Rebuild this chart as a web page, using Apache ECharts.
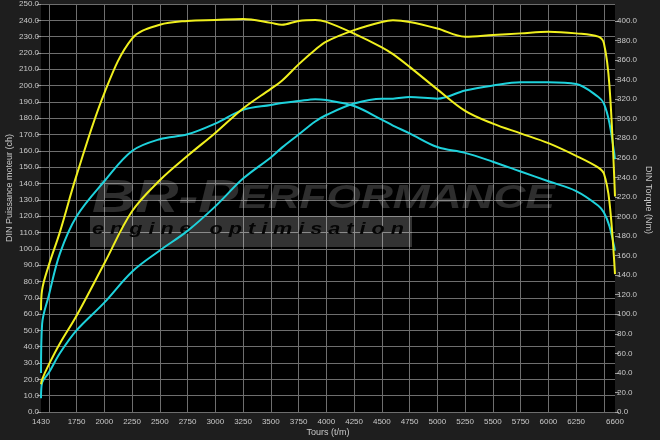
<!DOCTYPE html>
<html><head><meta charset="utf-8">
<script src="https://cdn.jsdelivr.net/npm/echarts@6/dist/echarts.min.js"></script>
<style>html,body{margin:0;padding:0;background:#1e1e1e;}#c{width:660px;height:440px;}</style>
</head><body><div id="c"></div>
<script>
const rpm = [1430,1440,1500,1600,1750,2000,2250,2500,2750,3000,3250,3500,3600,3750,3900,4000,4250,4500,4600,4750,5000,5250,5500,5750,6000,6250,6450,6500,6550,6600];
const torqueTuned = [104,125,150,184,242,326,382,396,400,401,402,398,396,400,401,399,387,373,366,353,330,308,295,285,275,262,250,244,215,141];
const powerTuned  = [17,20,29,42,59,91,123,142,157,171,186,198,203,213,222,227,234,239,240,239,235,230,231,232,233,232,230,226,200,132];
const torqueStock = [40,90,119,162,200,236,267,279,284,295,309,314,316,318,320,319,313,299,293,285,271,265,256,246,236,226,211,204,190,165];
const powerStock  = [8.5,18,24,36,50,67,86,99,111,126,143,156,162,170,178,182,189,192,192,193,192,197,200,202,202,201,193,189,177,155];
const xLabelValues = [1430,1750,2000,2250,2500,2750,3000,3250,3500,3750,4000,4250,4500,4750,5000,5250,5500,5750,6000,6250,6600];
const xGridValues = [1500,1750,2000,2250,2500,2750,3000,3250,3500,3750,4000,4250,4500,4750,5000,5250,5500,5750,6000,6250,6500];
const yLeftName = 'DIN Puissance moteur (ch)';
const yRightName = 'DIN Torque (Nm)';
const xName = 'Tours (t/m)';

const pair = (vals) => rpm.map((r, i) => [r, vals[i]]);
const FONT = 'Liberation Sans, Arial, sans-serif';
const YEL = '#f0f01e', CYA = '#1ed2dc';

const chart = echarts.init(document.getElementById('c'));
const lineS = (name, vals, color, yi) => ({
  name, type: 'line', data: pair(vals), yAxisIndex: yi, showSymbol: false,
  smooth: 0.35, lineStyle: {color, width: 2}, z: 3, silent: true
});
chart.setOption({
  backgroundColor: '#1e1e1e',
  animation: false,
  grid: {left: 41, right: 45, top: 2, bottom: 28, show: true, backgroundColor: '#000', borderWidth: 0},
  xAxis: {
    type: 'value', min: 1430, max: 6600,
    axisLine: {show: false},
    axisTick: {show: true, customValues: xGridValues, length: 0, lineStyle: {color: '#888'}},
    splitLine: {show: true, lineStyle: {color: '#6e6e6e', width: 1}},
    axisLabel: {customValues: xLabelValues, color: '#c8c8c8', fontSize: 8, fontFamily: FONT, margin: 6, formatter: v => String(v)}
  },
  yAxis: [{
    type: 'value', min: 0, max: 250, interval: 10,
    axisLine: {show: false},
    axisTick: {show: true, length: 4, lineStyle: {color: '#999'}},
    splitLine: {show: true, lineStyle: {color: '#6e6e6e', width: 1}},
    axisLabel: {color: '#c8c8c8', fontSize: 8, fontFamily: FONT, margin: 2, formatter: v => v.toFixed(1)}
  }, {
    type: 'value', min: 0, max: 417.3, interval: 20, position: 'right',
    axisLine: {show: false},
    axisTick: {show: true, length: 4, lineStyle: {color: '#999'}},
    splitLine: {show: false},
    axisLabel: {color: '#c8c8c8', fontSize: 8, fontFamily: FONT, margin: 2, showMaxLabel: false, formatter: v => v.toFixed(1)}
  }],
  graphic: [
    {type: 'text', z: 1, left: 92, top: 176, scaleX: 1.3, style: {
      text: '{a|BR-P}{b|ERFORMANCE}', fill: 'rgba(255,255,255,0.18)',
      rich: {a: {fontSize: 46, fontWeight: 'bold', fontStyle: 'italic', fontFamily: FONT, fill: 'rgba(255,255,255,0.18)'},
             b: {fontSize: 34, fontWeight: 'bold', fontStyle: 'italic', fontFamily: FONT, fill: 'rgba(255,255,255,0.18)'}}
    }},
    {type: 'rect', z: 1, shape: {x: 90, y: 216, width: 322, height: 31}, style: {fill: 'rgba(255,255,255,0.2)'}},
    {type: 'text', z: 1, left: 92, top: 221, scaleX: 1.27, style: {
      text: 'e n g i n e   o p t i m i s a t i o n', fill: '#050505', font: 'italic bold 17px ' + FONT
    }},
    {type: 'text', z: 5, x: 10, y: 188, rotation: Math.PI / 2, style: {
      text: yLeftName, fill: '#c8c8c8', font: '9px ' + FONT, align: 'center', verticalAlign: 'middle'}},
    {type: 'text', z: 5, x: 648, y: 200, rotation: -Math.PI / 2, style: {
      text: yRightName, fill: '#c8c8c8', font: '9px ' + FONT, align: 'center', verticalAlign: 'middle'}},
    {type: 'text', z: 5, x: 328, y: 433, style: {
      text: xName, fill: '#c8c8c8', font: '9px ' + FONT, align: 'center', verticalAlign: 'middle'}}
  ],
  series: [
    lineS('Puissance origine', powerStock, CYA, 0),
    lineS('Couple origine', torqueStock, CYA, 1),
    lineS('Puissance optimisée', powerTuned, YEL, 0),
    lineS('Couple optimisé', torqueTuned, YEL, 1)
  ]
});
</script></body></html>
